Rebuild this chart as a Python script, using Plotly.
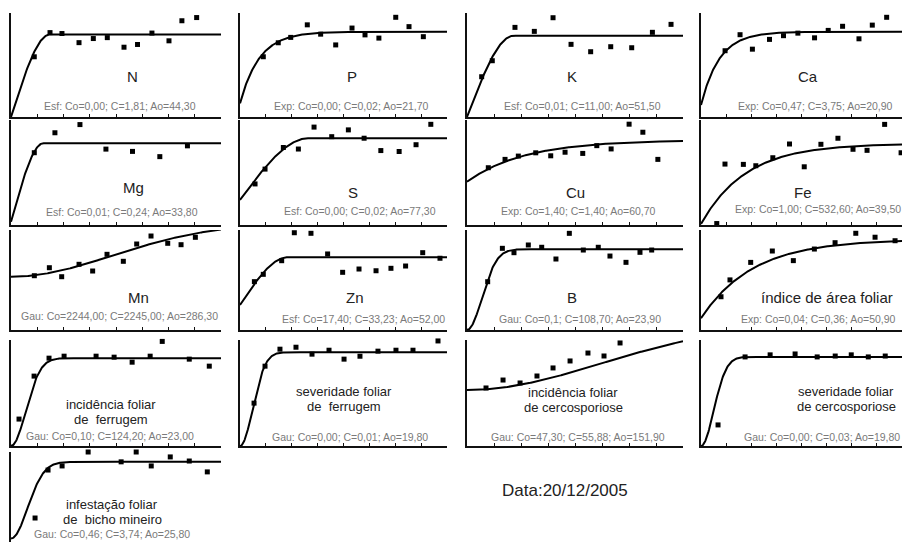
import numpy as np
import plotly.graph_objects as go

W, H = 902, 542

# ---- experimental semivariograms: lag distance and semivariance ----
N_lag = [26.5, 44.4, 58.0, 77.4, 93.7, 109.6, 128.6, 144.0, 160.4, 179.8, 194.5, 211.3]
N_gam = [1.32, 1.85, 1.83, 1.63, 1.72, 1.74, 1.53, 1.59, 1.84, 1.67, 2.11, 2.18]

P_lag = [26.0, 42.7, 56.6, 75.1, 90.0, 106.8, 125.0, 139.5, 155.0, 173.8, 188.6, 204.6]
P_gam = [0.0130, 0.0169, 0.0184, 0.0219, 0.0193, 0.0163, 0.0210, 0.0191, 0.0182, 0.0240, 0.0214, 0.0186]

K_lag = [16.3, 28.1, 53.3, 74.8, 95.6, 115.6, 137.4, 159.7, 183.0, 206.0, 226.7]
K_gam = [5.46, 7.63, 12.15, 11.61, 13.46, 9.85, 8.85, 9.53, 9.39, 11.48, 12.56]

Ca_lag = [27.3, 44.3, 58.3, 77.7, 93.6, 109.9, 128.8, 144.3, 160.6, 179.2, 194.3, 210.6]
Ca_gam = [3.25, 4.07, 3.33, 3.83, 4.02, 4.15, 3.91, 4.29, 4.50, 3.86, 4.56, 4.96]

Mg_lag = [24.3, 45.8, 71.9, 99.0, 126.7, 155.2, 184.0]
Mg_gam = [0.221, 0.282, 0.307, 0.232, 0.225, 0.209, 0.242]

S_lag = [17.0, 28.3, 49.0, 66.0, 83.7, 103.7, 122.5, 140.3, 159.2, 179.9, 199.0, 215.7]
S_gam = [0.0052, 0.0100, 0.0170, 0.0165, 0.0236, 0.0205, 0.0227, 0.0200, 0.0160, 0.0157, 0.0179, 0.0245]

Cu_lag = [22.3, 39.8, 53.7, 71.9, 87.6, 102.6, 121.1, 135.8, 150.8, 169.6, 184.0, 199.7]
Cu_gam = [1.87, 2.15, 2.26, 2.37, 2.27, 2.39, 2.35, 2.61, 2.50, 3.33, 3.06, 2.15]

Fe_lag = [13.8, 21.0, 37.1, 48.0, 62.9, 77.5, 90.4, 105.0, 119.9, 133.1, 145.4, 160.8, 175.2]
Fe_gam = [3, 397, 395, 386, 439, 530, 379, 528, 568, 495, 488, 660, 472]

Mn_lag = [46.8, 76.9, 101.6, 136.4, 163.7, 192.5, 225.2, 252.0, 280.7, 314.2, 340.9, 369.6]
Mn_gam = [2286, 2623, 2244, 2766, 2484, 3187, 2893, 3621, 3958, 3651, 3592, 3903]

Zn_lag = [15.8, 25.6, 45.8, 59.7, 78.0, 96.3, 112.8, 130.8, 149.5, 165.9, 182.0, 200.8, 219.8]
Zn_gam = [33.7, 38.8, 48.3, 67.8, 67.4, 53.0, 40.2, 42.5, 41.3, 43.0, 44.6, 53.9, 50.0]

B_lag = [23.5, 40.2, 53.4, 69.7, 84.9, 101.1, 116.3, 132.2, 149.2, 162.5, 180.7, 196.6, 209.9]
B_gam = [65.1, 110.1, 104.2, 114.6, 111.5, 95.7, 130.3, 107.8, 111.5, 99.7, 91.2, 104.7, 107.8]

IAF_lag = [19.6, 28.4, 48.7, 69.9, 90.5, 111.1, 131.4, 151.7, 170.6, 190.2]
IAF_gam = [0.138, 0.215, 0.295, 0.347, 0.303, 0.356, 0.385, 0.428, 0.410, 0.394]

IFF_lag = [8.9, 25.6, 42.2, 58.9, 94.4, 114.4, 134.4, 154.4, 167.8, 197.8, 220.0]
IFF_gam = [38.1, 98.9, 124.3, 127.1, 127.1, 125.7, 118.6, 127.1, 148.0, 122.9, 113.0]

SFF_lag = [15.6, 27.8, 44.4, 62.2, 80.0, 98.9, 115.6, 133.3, 153.3, 173.3, 192.2, 220.0]
SFF_gam = [0.00457, 0.00851, 0.01032, 0.01053, 0.00979, 0.01021, 0.00926, 0.00957,
           0.01011, 0.01021, 0.01021, 0.01120]

IFC_lag = [15.4, 29.2, 43.0, 56.7, 69.7, 83.5, 98.0, 111.0, 124.0]
IFC_gam = [49.0, 55.7, 53.2, 59.1, 65.9, 71.8, 78.5, 76.0, 87.0]

SFC_lag = [18.9, 48.9, 76.7, 104.4, 128.9, 148.9, 166.7, 185.6, 204.4]
SFC_gam = [0.0071, 0.0300, 0.0307, 0.0310, 0.0300, 0.0303, 0.0307, 0.0300, 0.0303]

IBM_lag = [26.7, 41.1, 56.7, 85.6, 103.3, 122.2, 138.9, 155.6, 176.7, 197.8, 217.8]
IBM_gam = [1.46, 3.80, 4.00, 4.68, 4.73, 4.20, 4.68, 4.00, 4.44, 4.24, 3.71]

# ---- fitted models (type, nugget Co, contribution C, range Ao) ----
models = {
    "N": ("Esf", 0.00, 1.81, 44.30),
    "P": ("Exp", 0.00, 0.02, 21.70),
    "K": ("Esf", 0.01, 11.00, 51.50),
    "Ca": ("Exp", 0.47, 3.75, 20.90),
    "Mg": ("Esf", 0.01, 0.24, 33.80),
    "S": ("Esf", 0.00, 0.02, 77.30),
    "Cu": ("Exp", 1.40, 1.40, 60.70),
    "Fe": ("Exp", 1.00, 532.60, 39.50),
    "Mn": ("Gau", 2244.00, 2245.00, 286.30),
    "Zn": ("Esf", 17.40, 33.23, 52.00),
    "B": ("Gau", 0.10, 108.70, 23.90),
    "IAF": ("Exp", 0.04, 0.36, 50.90),
    "IFF": ("Gau", 0.10, 124.20, 23.00),
    "SFF": ("Gau", 0.00, 0.01, 19.80),
    "IFC": ("Gau", 47.30, 55.88, 151.90),
    "SFC": ("Gau", 0.00, 0.03, 19.80),
    "IBM": ("Gau", 0.46, 3.74, 25.80),
}

# parameter captions, as printed
captions = {
    "N": "Esf: Co=0,00; C=1,81; Ao=44,30",
    "P": "Exp: Co=0,00; C=0,02; Ao=21,70",
    "K": "Esf: Co=0,01; C=11,00; Ao=51,50",
    "Ca": "Exp: Co=0,47; C=3,75; Ao=20,90",
    "Mg": "Esf: Co=0,01; C=0,24; Ao=33,80",
    "S": "Esf: Co=0,00; C=0,02; Ao=77,30",
    "Cu": "Exp: Co=1,40; C=1,40; Ao=60,70",
    "Fe": "Exp: Co=1,00; C=532,60; Ao=39,50",
    "Mn": "Gau: Co=2244,00; C=2245,00; Ao=286,30",
    "Zn": "Esf: Co=17,40; C=33,23; Ao=52,00",
    "B": "Gau: Co=0,1; C=108,70; Ao=23,90",
    "IAF": "Exp: Co=0,04; C=0,36; Ao=50,90",
    "IFF": "Gau: Co=0,10; C=124,20; Ao=23,00",
    "SFF": "Gau: Co=0,00; C=0,01; Ao=19,80",
    "IFC": "Gau: Co=47,30; C=55,88; Ao=151,90",
    "SFC": "Gau: Co=0,00; C=0,03; Ao=19,80",
    "IBM": "Gau: Co=0,46; C=3,74; Ao=25,80",
}

# variable names (one entry per text line)
titles = {
    "N": ["N"], "P": ["P"], "K": ["K"], "Ca": ["Ca"],
    "Mg": ["Mg"], "S": ["S"], "Cu": ["Cu"], "Fe": ["Fe"],
    "Mn": ["Mn"], "Zn": ["Zn"], "B": ["B"], "IAF": ["índice de área foliar"],
    "IFF": ["incidência foliar", "de  ferrugem"],
    "SFF": ["severidade foliar", "de  ferrugem"],
    "IFC": ["incidência foliar", "de cercosporiose"],
    "SFC": ["severidade foliar", "de cercosporiose"],
    "IBM": ["infestação foliar", "de  bicho mineiro"],
}

data = {
    "N": (N_lag, N_gam), "P": (P_lag, P_gam), "K": (K_lag, K_gam), "Ca": (Ca_lag, Ca_gam),
    "Mg": (Mg_lag, Mg_gam), "S": (S_lag, S_gam), "Cu": (Cu_lag, Cu_gam), "Fe": (Fe_lag, Fe_gam),
    "Mn": (Mn_lag, Mn_gam), "Zn": (Zn_lag, Zn_gam), "B": (B_lag, B_gam), "IAF": (IAF_lag, IAF_gam),
    "IFF": (IFF_lag, IFF_gam), "SFF": (SFF_lag, SFF_gam), "IFC": (IFC_lag, IFC_gam),
    "SFC": (SFC_lag, SFC_gam), "IBM": (IBM_lag, IBM_gam),
}

# ---- panel geometry (pixels) ----
col_left = [11, 240, 467, 701]
col_right = [221, 447, 683, 902]
row_top = [13, 120, 230, 340, 452]
row_bot = [117, 225, 330, 446, 542]

# key: (row, col, x max, y min, y max, title centre px, caption centre px)
layout_spec = {
    "N": (0, 0, 239, 0.0, 2.28, (132, 77), (120, 106)),
    "P": (0, 1, 231, -0.0038, 0.0252, (352, 77), (351, 106)),
    "K": (0, 2, 240, 0.0, 14.1, (572, 77), (582, 106)),
    "Ca": (0, 3, 228, -0.14, 5.18, (808, 77), (815, 106)),
    "Mg": (1, 0, 219, 0.0, 0.321, (133, 188), (122, 212)),
    "S": (1, 1, 234, -0.0081, 0.0259, (353, 193), (360, 211)),
    "Cu": (1, 2, 226, -0.05, 3.47, (575, 193), (578, 211)),
    "Fe": (1, 3, 176, -6.6, 689, (803, 193), (818, 209)),
    "Mn": (2, 0, 421, 0.0, 4211, (138, 297), (120, 316)),
    "Zn": (2, 1, 227.5, 0.0, 69.7, (355, 297), (363, 319)),
    "B": (2, 2, 245.5, 0.0, 134.8, (572, 297), (580, 319)),
    "IAF": (2, 3, 197, -0.014, 0.443, (827, 297), (818, 319)),
    "IFF": (3, 0, 233, 0.0, 150.0, (111, 404), (110, 436)),
    "SFF": (3, 1, 230, 0.0, 0.0113, (344, 391), (350, 437)),
    "IFC": (3, 2, 175, 0.0, 89.5, (573, 392), (578, 437)),
    "SFC": (3, 3, 223, 0.0, 0.0357, (846, 391), (822, 437)),
    "IBM": (4, 0, 233, 0.29, 4.68, (112, 504), (112, 534)),
}


def model_curve(kind, co, c, a, h):
    r = h / a
    if kind == "Esf":
        return np.where(h < a, co + c * (1.5 * r - 0.5 * r ** 3), co + c)
    if kind == "Exp":
        return co + c * (1.0 - np.exp(-r))
    return co + c * (1.0 - np.exp(-r ** 2))


def px_x(px):
    return px / W


def px_y(py):
    return 1.0 - py / H


FONT = "Liberation Sans, Arial"

fig = go.Figure()
annotations = []
axis_line = dict(showline=True, linecolor="#111111", linewidth=2, showgrid=False,
                 zeroline=False, showticklabels=False)

for i, (key, spec) in enumerate(layout_spec.items(), start=1):
    row, col, xmax, ymin, ymax, tpos, cpos = spec
    kind, co, c, a = models[key]
    lag, gam = data[key]
    xa = "x" if i == 1 else f"x{i}"
    ya = "y" if i == 1 else f"y{i}"

    h = np.linspace(0, xmax, 400)
    fig.add_trace(go.Scatter(x=h, y=model_curve(kind, co, c, a, h), mode="lines",
                             line=dict(color="#000000", width=2), xaxis=xa, yaxis=ya,
                             hoverinfo="skip", showlegend=False))
    fig.add_trace(go.Scatter(x=lag, y=gam, mode="markers", cliponaxis=False,
                             marker=dict(symbol="square", size=5, color="#000000"),
                             xaxis=xa, yaxis=ya, showlegend=False))

    x0, x1 = px_x(col_left[col]), px_x(col_right[col])
    y0, y1 = px_y(row_bot[row]), px_y(row_top[row])
    xname = "xaxis" if i == 1 else f"xaxis{i}"
    yname = "yaxis" if i == 1 else f"yaxis{i}"
    bottom_row = row == 4
    fig.layout[xname] = dict(axis_line, domain=[x0, x1], range=[0, xmax], anchor=ya,
                             ticks="" if bottom_row else "inside", ticklen=3,
                             tickcolor="#111111", dtick=xmax / 8.0, tick0=0,
                             showline=not bottom_row)
    fig.layout[yname] = dict(axis_line, domain=[y0, y1], range=[ymin, ymax], anchor=xa,
                             ticks="")

    lines = titles[key]
    size = 15 if len(lines) == 1 else 13
    for j, line in enumerate(lines):
        annotations.append(dict(text=line, x=px_x(tpos[0]), y=px_y(tpos[1] + 15 * j),
                                xref="paper", yref="paper", showarrow=False,
                                xanchor="center", yanchor="middle",
                                font=dict(family=FONT, size=size, color="#222222")))
    annotations.append(dict(text=captions[key], x=px_x(cpos[0]), y=px_y(cpos[1]),
                            xref="paper", yref="paper", showarrow=False,
                            xanchor="center", yanchor="middle",
                            font=dict(family=FONT, size=10.5, color="#7a7a7a")))

annotations.append(dict(text="Data:20/12/2005", x=px_x(565), y=px_y(490),
                        xref="paper", yref="paper", showarrow=False,
                        xanchor="center", yanchor="middle",
                        font=dict(family=FONT, size=17, color="#222222")))

fig.update_layout(width=W, height=H, margin=dict(l=0, r=0, t=0, b=0),
                  paper_bgcolor="white", plot_bgcolor="white",
                  annotations=annotations, showlegend=False)

fig.write_html("out.html")
